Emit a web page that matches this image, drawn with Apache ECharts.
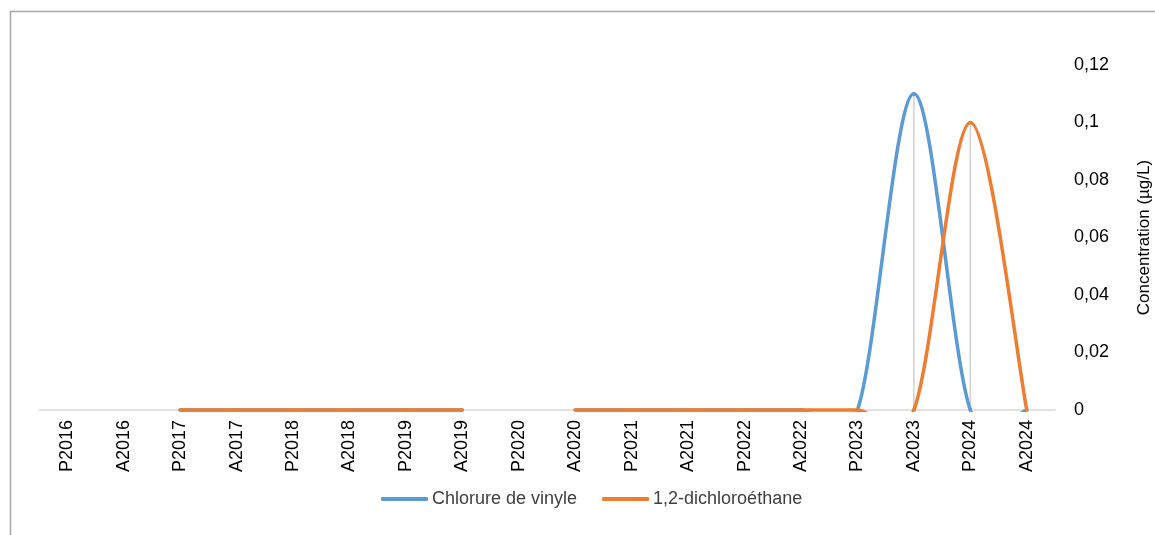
<!DOCTYPE html>
<html><head><meta charset="utf-8">
<script src="https://cdn.jsdelivr.net/npm/echarts@6/dist/echarts.min.js"></script>
<style>html,body{margin:0;padding:0;background:#fff}#c{width:1155px;height:535px}</style>
</head><body><div id="c"></div>
<script>
const categories = ['P2016','A2016','P2017','A2017','P2018','A2018','P2019','A2019','P2020','A2020','P2021','A2021','P2022','A2022','P2023','A2023','P2024','A2024'];
const chlorureVinyle = [null,null,0,0,0,0,0,0,null,0,0,0,0,0,0,0.11,0,0];
const dichloroethane = [null,null,0,0,0,0,0,0,null,0,0,0,0,0,0,0,0.1,0];
const yTicks = [0,0.02,0.04,0.06,0.08,0.1,0.12];

const dropLines = categories.map((c,i)=>{
  const a = chlorureVinyle[i], b = dichloroethane[i];
  if (a == null && b == null) return null;
  return Math.max(a ?? 0, b ?? 0);
});

// Excel-like smoothed line (Catmull-Rom style Bezier segments)
function smoothRenderer(arr, color) {
  return function (params, api) {
    const i = params.dataIndex;
    if (arr[i] == null || arr[i + 1] == null) return null;
    const p = k => api.coord([k, arr[k]]);
    const P1 = p(i), P2 = p(i + 1);
    const P0 = (i - 1 >= 0 && arr[i - 1] != null) ? p(i - 1) : P1;
    const P3 = (arr[i + 2] != null) ? p(i + 2) : P2;
    const cs = params.coordSys;
    return {
      type: 'bezierCurve',
      shape: {
        x1: P1[0], y1: P1[1], x2: P2[0], y2: P2[1],
        cpx1: P1[0] + (P2[0] - P0[0]) / 6, cpy1: P1[1] + (P2[1] - P0[1]) / 6,
        cpx2: P2[0] - (P3[0] - P1[0]) / 6, cpy2: P2[1] - (P3[1] - P1[1]) / 6
      },
      style: {stroke: color, lineWidth: 3.5, fill: null, lineCap: 'round'},
      clipPath: {type: 'rect', shape: {x: cs.x, y: cs.y - 10, width: cs.width, height: cs.height + 12}}
    };
  };
}

const font = 'Liberation Sans';
const blue = '#5b9bd5', orange = '#ed7d31';
const chart = echarts.init(document.getElementById('c'));
chart.setOption({
  animation: false,
  textStyle: {fontFamily: font},
  graphic: [{type:'rect', shape:{x:10.5,y:11.5,width:1200,height:600}, style:{fill:'none', stroke:'#a6a6a6', lineWidth:1.5}, silent:true}],
  grid: {left: 39, right: 100, top: 65, bottom: 125, outerBoundsMode: 'none', containLabel: false},
  legend: {
    data: ['Chlorure de vinyle','1,2-dichloroéthane'],
    top: 485, left: 376,
    itemWidth: 47, itemHeight: 4, itemGap: 25,
    icon: 'roundRect',
    textStyle: {fontFamily: font, fontSize: 18, color: '#404040', padding: [0,0,0,-1]}
  },
  xAxis: {
    type: 'category', data: categories, boundaryGap: true,
    axisLine: {lineStyle: {color: '#d9d9d9', width: 1.5}},
    axisTick: {show: false},
    axisLabel: {rotate: 90, interval: 0, fontFamily: font, fontSize: 18, color: '#000', margin: 10}
  },
  yAxis: {
    type: 'value', position: 'right', min: 0, max: 0.12, interval: 0.02,
    splitLine: {show: false}, axisLine: {show: false}, axisTick: {show: false},
    axisLabel: {fontFamily: font, fontSize: 18, color: '#000', margin: 19,
      formatter: v => String(+v.toFixed(2)).replace('.', ',')},
    name: 'Concentration (µg/L)', nameLocation: 'middle', nameRotate: 90, nameGap: 81,
    nameTextStyle: {fontFamily: font, fontSize: 17, color: '#000'}
  },
  series: [
    {name: 'drop', type: 'bar', data: dropLines, barWidth: 1.5, silent: true,
     itemStyle: {color: '#d0d0d0'}, z: 1},
    {name: 'Chlorure de vinyle', type: 'custom', data: chlorureVinyle.map((v,i)=>[i, v ?? 0]),
     renderItem: smoothRenderer(chlorureVinyle, blue), itemStyle: {color: blue}, z: 3, silent: true},
    {name: '1,2-dichloroéthane', type: 'custom', data: dichloroethane.map((v,i)=>[i, v ?? 0]),
     renderItem: smoothRenderer(dichloroethane, orange), itemStyle: {color: orange}, z: 4, silent: true}
  ]
});
</script></body></html>
